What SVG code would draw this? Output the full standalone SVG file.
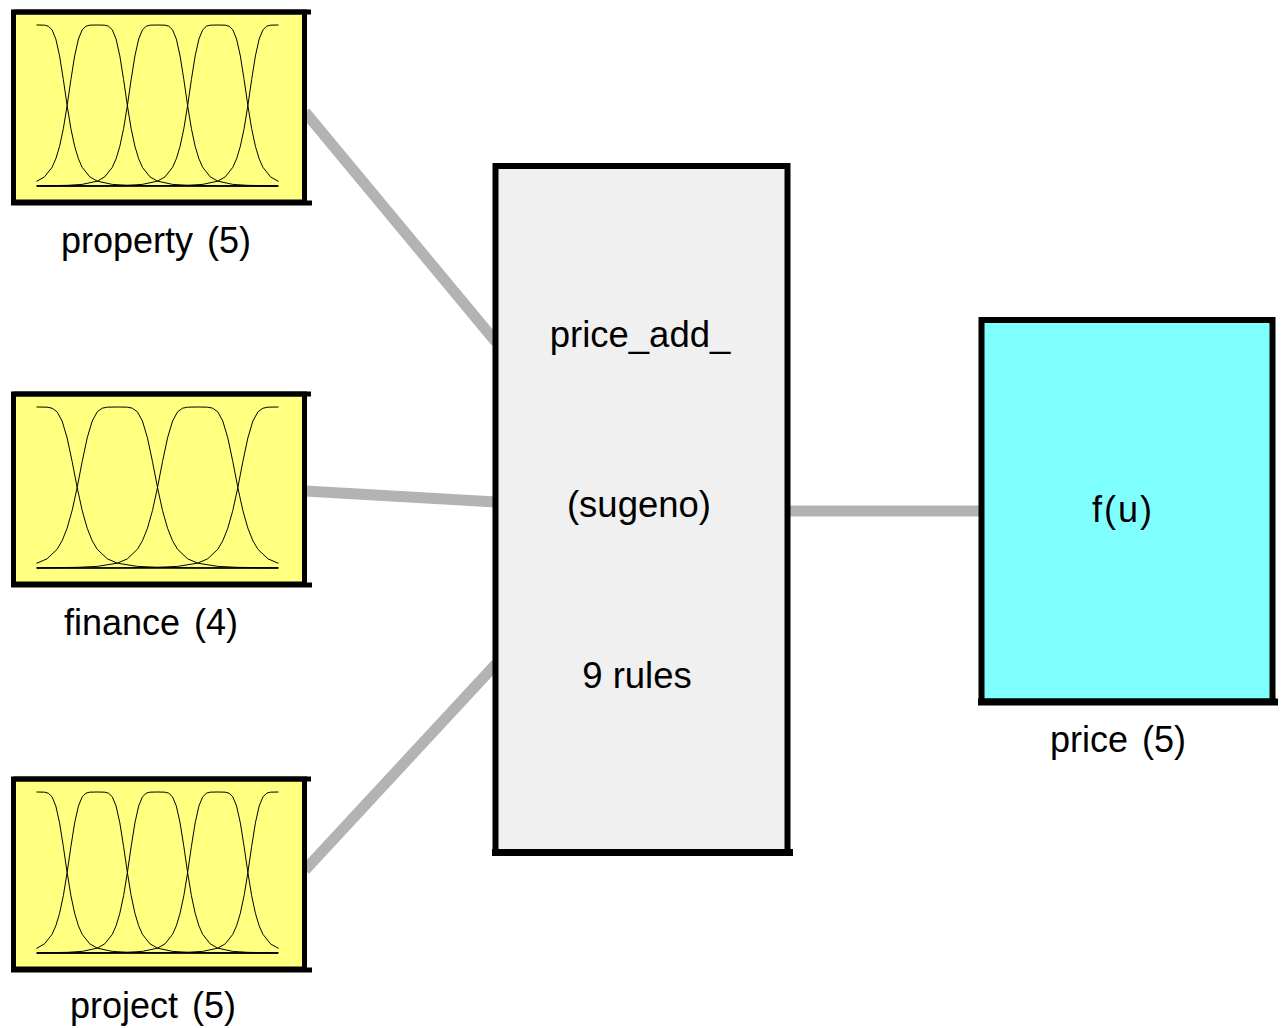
<svg xmlns="http://www.w3.org/2000/svg" xmlns:xlink="http://www.w3.org/1999/xlink" width="1284" height="1028" viewBox="0 0 1284 1028">
  <style>
    .frame { stroke: #000; stroke-width: 5; }
    .input { fill: #ffff80; }
    .rules { fill: #f0f0f0; stroke: #000; stroke-width: 6; }
    .output { fill: #80ffff; stroke: #000; stroke-width: 6; }
    .mf { fill: none; stroke: #000; stroke-width: 1; vector-effect: non-scaling-stroke; }
    .axis { stroke: #000; stroke-width: 1.3; }
    .link { stroke: #b3b3b3; stroke-width: 11; fill: none; }
    .label { font-family: "Liberation Sans", Arial, sans-serif; font-size: 36px; fill: #000; text-anchor: middle; }
    .lbl { word-spacing: 4px; }
    .big { font-size: 36.5px; }
  </style>
  <defs>
    <!-- generalized bell, a = 1, b = 2.5; y runs 0 (mu = 1) to 1 (mu = 0) -->
    <path id="bell" class="mf" d="M-8,1 L-6,1 L-4,0.999 L-3,0.996 L-2.5,0.99 L-2,0.97 L-1.75,0.943 L-1.5,0.884 L-1.375,0.831 L-1.25,0.753 L-1.125,0.643 L-1,0.5 L-0.875,0.339 L-0.75,0.192 L-0.625,0.087 L-0.5,0.03 L-0.375,0.0074 L-0.25,0.001 L0,0 L0.25,0.001 L0.375,0.0074 L0.5,0.03 L0.625,0.087 L0.75,0.192 L0.875,0.339 L1,0.5 L1.125,0.643 L1.25,0.753 L1.375,0.831 L1.5,0.884 L1.75,0.943 L2,0.97 L2.5,0.99 L3,0.996 L4,0.999 L6,1 L8,1"/>
    <clipPath id="range" clipPathUnits="userSpaceOnUse">
      <rect x="36.5" y="0" width="242" height="1028"/>
    </clipPath>
  </defs>

  <!-- connectors -->
  <g id="connectors">
    <line class="link" x1="305" y1="112" x2="496" y2="342"/>
    <line class="link" x1="305" y1="491" x2="496" y2="502"/>
    <line class="link" x1="305" y1="870" x2="496" y2="664"/>
    <line class="link" x1="788" y1="511" x2="982" y2="511"/>
  </g>

  <!-- input: property, 5 membership functions -->
  <g id="property">
    <rect class="input frame" x="13.5" y="12" width="291" height="190"/>
    <line class="frame" x1="11" y1="203" x2="312" y2="203" stroke-width="6"/>
    <line class="frame" x1="13.5" y1="12" x2="311" y2="12"/>
    <g clip-path="url(#range)">
      <use xlink:href="#bell" transform="translate(37,25) scale(30.12,161)"/>
      <use xlink:href="#bell" transform="translate(97.25,25) scale(30.12,161)"/>
      <use xlink:href="#bell" transform="translate(157.5,25) scale(30.12,161)"/>
      <use xlink:href="#bell" transform="translate(217.75,25) scale(30.12,161)"/>
      <use xlink:href="#bell" transform="translate(278,25) scale(30.12,161)"/>
    </g>
    <line class="axis" x1="37" y1="186" x2="278" y2="186"/>
    <text class="label lbl" x="156" y="253">property (5)</text>
  </g>

  <!-- input: finance, 4 membership functions -->
  <g id="finance">
    <rect class="input frame" x="13.5" y="394" width="291" height="190"/>
    <line class="frame" x1="11" y1="585" x2="312" y2="585" stroke-width="6"/>
    <line class="frame" x1="13.5" y1="394" x2="311" y2="394"/>
    <g clip-path="url(#range)">
      <use xlink:href="#bell" transform="translate(37,407) scale(40.17,161)"/>
      <use xlink:href="#bell" transform="translate(117.33,407) scale(40.17,161)"/>
      <use xlink:href="#bell" transform="translate(197.67,407) scale(40.17,161)"/>
      <use xlink:href="#bell" transform="translate(278,407) scale(40.17,161)"/>
    </g>
    <line class="axis" x1="37" y1="568" x2="278" y2="568"/>
    <text class="label lbl" x="151" y="635">finance (4)</text>
  </g>

  <!-- input: project, 5 membership functions -->
  <g id="project">
    <rect class="input frame" x="13.5" y="779" width="291" height="190"/>
    <line class="frame" x1="11" y1="970" x2="312" y2="970" stroke-width="6"/>
    <line class="frame" x1="13.5" y1="779" x2="311" y2="779"/>
    <g clip-path="url(#range)">
      <use xlink:href="#bell" transform="translate(37,792) scale(30.12,161)"/>
      <use xlink:href="#bell" transform="translate(97.25,792) scale(30.12,161)"/>
      <use xlink:href="#bell" transform="translate(157.5,792) scale(30.12,161)"/>
      <use xlink:href="#bell" transform="translate(217.75,792) scale(30.12,161)"/>
      <use xlink:href="#bell" transform="translate(278,792) scale(30.12,161)"/>
    </g>
    <line class="axis" x1="37" y1="953" x2="278" y2="953"/>
    <text class="label lbl" x="153" y="1018">project (5)</text>
  </g>

  <!-- rule block -->
  <g id="rules">
    <rect class="rules" x="495.5" y="166" width="292" height="686"/>
    <line stroke="#000" stroke-width="7" x1="492" y1="852.5" x2="793" y2="852.5"/>
    <text class="label big" x="640" y="347">price_add_</text>
    <text class="label big" x="639" y="517">(sugeno)</text>
    <text class="label big" x="637" y="688">9 rules</text>
  </g>

  <!-- output: price -->
  <g id="price">
    <rect class="output" x="981.5" y="320" width="291" height="381.5"/>
    <line stroke="#000" stroke-width="7" x1="978" y1="702" x2="1278" y2="702"/>
    <text class="label" x="1123" y="522" letter-spacing="2">f(u)</text>
    <text class="label lbl" x="1118" y="752">price (5)</text>
  </g>
</svg>
